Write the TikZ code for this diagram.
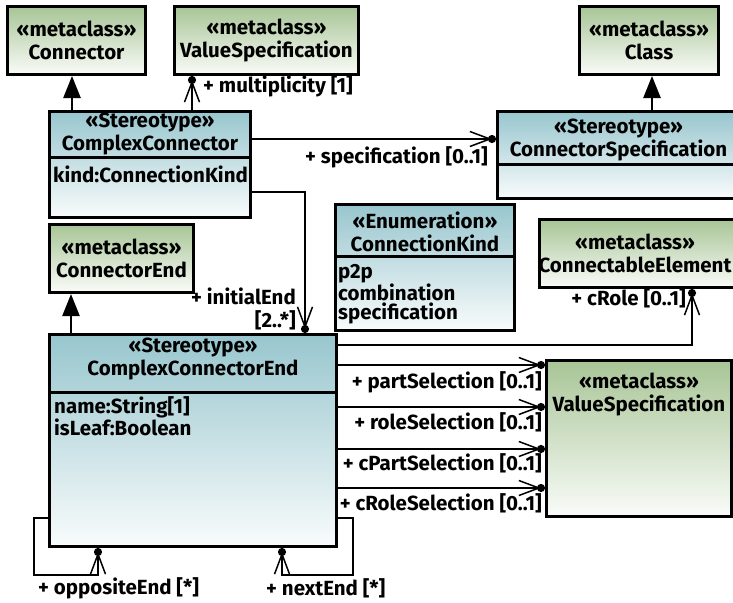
\documentclass[tikz,border=0pt]{standalone}
\usepackage{fontspec}
\setmainfont{Fira Sans}
\usetikzlibrary{arrows.meta}
\definecolor{metagreen}{RGB}{168,197,150}
\definecolor{stereoblue}{RGB}{152,198,206}
\newcommand{\umlfont}{\fontsize{20.5}{23}\selectfont\bfseries}

\tikzset{
  box/.style={draw, line width=3pt, anchor=north west, inner sep=0pt},
  metabox/.style={box, top color=metagreen, bottom color=metagreen!6},
  stereobox/.style={box, top color=stereoblue, bottom color=stereoblue!6},
  title/.style={align=center, font=\umlfont, inner sep=0pt},
  attr/.style={anchor=west, align=left, inner sep=0pt},
  role/.style={font=\umlfont, inner sep=0pt},
  gen/.style={line width=2.5pt, -{Triangle[length=22pt,width=17pt]}},
  assoc/.style={line width=2.5pt,
    -{Straight Barb[length=20pt,width=15pt,line width=1.5pt,sep=-4pt]Circle[length=8pt]}},
}

\begin{document}
\begin{tikzpicture}[x=1pt, y=-1pt]
  \useasboundingbox (0,0) rectangle (733,602);
  \clip (0,0) rectangle (733,602);

  % metaclasses
  \node[metabox, title, minimum width=138pt, minimum height=68pt] (conn) at (6,5) {«metaclass»\\Connector};
  \node[metabox, title, minimum width=184pt, minimum height=68pt] (vs1) at (173,5) {«metaclass»\\ValueSpecification};
  \node[metabox, title, minimum width=139pt, minimum height=68pt] (cls) at (578,5) {«metaclass»\\Class};
  \node[metabox, title, minimum width=144pt, minimum height=68pt] (ce) at (48,223) {«metaclass»\\ConnectorEnd};
  \node[metabox, minimum width=199pt, minimum height=68pt] (cel) at (538,218) {};
  \node[title] at ([xshift=-4pt]cel.center) {«metaclass»\\ConnectableElement};
  \node[metabox, minimum width=185pt, minimum height=156pt] (vs2) at (545,359) {};
  \node[title] at ([yshift=-35pt]vs2.north) {«metaclass»\\ValueSpecification};

  % stereotypes
  \node[stereobox, minimum width=201pt, minimum height=106pt] (cc) at (48,110) {};
  \draw[line width=3pt] ([yshift=-47pt]cc.north west) -- ([yshift=-47pt]cc.north east);
  \node[title] at ([yshift=-24pt]cc.north) {«Stereotype»\\ComplexConnector};
  \node[attr, font=\umlfont] at ([shift={(5pt,-64pt)}]cc.north west) {kind:ConnectionKind};

  \node[stereobox, minimum width=242pt, minimum height=87pt] (cs) at (496,110) {};
  \draw[line width=3pt] ([yshift=-54pt]cs.north west) -- ([yshift=-54pt]cs.north east);
  \node[title] at ([yshift=-30pt]cs.north) {«Stereotype»\\ConnectorSpecification};

  \node[stereobox, minimum width=179pt, minimum height=126pt] (ck) at (334,203) {};
  \draw[line width=3pt] ([yshift=-53pt]ck.north west) -- ([yshift=-53pt]ck.north east);
  \node[title] at ([yshift=-29pt]ck.north) {«Enumeration»\\ConnectionKind};
  \node[attr, font=\fontsize{20.5}{19}\selectfont\bfseries] at ([shift={(4pt,-91pt)}]ck.north west) {p2p\\combination\\specification};

  \node[stereobox, minimum width=287pt, minimum height=212pt] (cce) at (48,333) {};
  \draw[line width=3pt] ([yshift=-59pt]cce.north west) -- ([yshift=-59pt]cce.north east);
  \node[title] at ([yshift=-26pt]cce.north) {«Stereotype»\\ComplexConnectorEnd};
  \node[attr, font=\fontsize{20.5}{15.5}\selectfont\bfseries] at ([shift={(6pt,-83pt)}]cce.north west) {name:String[1]\\isLeaf:Boolean};

  % generalizations
  \coordinate (g1) at (72,0);
  \coordinate (g2) at (652,0);
  \coordinate (g3) at (71,0);
  \draw[gen] (cc.north -| g1) -- (conn.south -| g1);
  \draw[gen] (cs.north -| g2) -- (cls.south -| g2);
  \draw[gen] (cce.north -| g3) -- (ce.south -| g3);

  % associations
  \coordinate (mx) at (192,0);
  \draw[assoc] (cc.north -| mx) -- (vs1.south -| mx);
  \node[role, anchor=west] at (203,86) {+ multiplicity [1]};

  \coordinate (sy) at (0,139);
  \draw[assoc] (cc.east |- sy) -- (cs.west |- sy);
  \node[role, anchor=east] at (488,157) {+ specification [0..1]};

  \coordinate (iy) at (0,192);
  \coordinate (ix) at (305,0);
  \draw[assoc] (cc.east |- iy) -| (cce.north -| ix);
  \node[role, anchor=east] at (296,296) {+ initialEnd};
  \node[role, anchor=east] at (296,320) {[2..*]};

  \coordinate (ry) at (0,345);
  \coordinate (rx) at (692,0);
  \draw[assoc] (cce.east |- ry) -| (cel.south -| rx);
  \node[role, anchor=east] at (686,298) {+ cRole [0..1]};

  \foreach \y/\lbl/\ly in {365/partSelection/382, 407/roleSelection/422,
                           449/cPartSelection/463, 488/cRoleSelection/503} {
    \draw[assoc] (cce.east |- 0,\y) -- (vs2.west |- 0,\y);
    \node[role, anchor=east] at (542,\ly) {+ \lbl\ [0..1]};
  }

  % self associations
  \draw[assoc] (cce.west |- 0,518) -- ++(-14,0) -- ++(0,57) -| (cce.south -| 98,0);
  \node[role, anchor=west] at (38,588) {+ oppositeEnd [*]};
  \draw[assoc] (cce.east |- 0,518) -- ++(15,0) -- ++(0,57) -| (cce.south -| 282,0);
  \node[role, anchor=west] at (266,588) {+ nextEnd [*]};
\end{tikzpicture}
\end{document}
